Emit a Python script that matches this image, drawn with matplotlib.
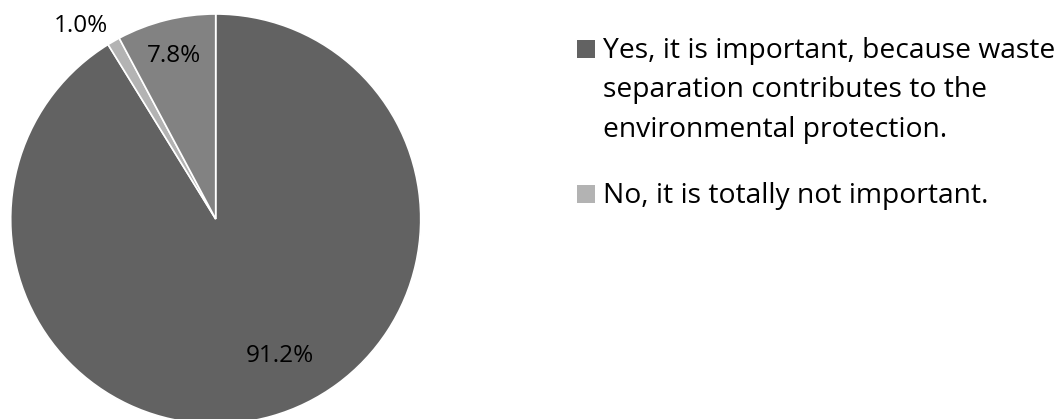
import matplotlib
matplotlib.use("Agg")
import matplotlib.pyplot as plt
from matplotlib.patches import Rectangle

labels = ["Yes, it is important, because waste\nseparation contributes to the\nenvironmental protection.",
          "No, it is totally not important.",
          "Other"]
values = [91.2, 1.0, 7.8]
colors = ["#626262", "#b3b3b3", "#828282"]
pct_labels = ["91.2%", "1.0%", "7.8%"]

FONT = ['Open Sans', 'DejaVu Sans']
plt.rcParams['font.family'] = FONT
FS_LEG = 20.3
FS_LBL = 17.5

W, H = 1062, 419
fig = plt.figure(figsize=(W/100, H/100), dpi=100)
cx, cy, r = 215.7, 219.0, 205.0
ax = fig.add_axes([(cx - r)/W, (H - cy - r)/H, 2*r/W, 2*r/H])
wedges, _ = ax.pie(values, colors=colors, startangle=90, counterclock=False, radius=1,
                   wedgeprops=dict(edgecolor="white", linewidth=1.2))
for w in wedges:
    w.set_clip_on(False)
ax.set_xlim(-1, 1)
ax.set_ylim(-1, 1)
ax.set_aspect('equal')
ax.axis('off')

# label anchor (center x, baseline y) in axes data units
label_pos = [(0.314, -0.698), (-0.657, 0.912), (-0.204, 0.766)]
for (x, y), t in zip(label_pos, pct_labels):
    ax.text(x, y, t, ha='center', va='baseline', fontsize=FS_LBL, color='#000000', clip_on=False)

# legend (first two entries visible)
first_baselines = [58, 203]
line_step = 39.5
sq = 17.5
for i, base in enumerate(first_baselines):
    fig.patches.append(Rectangle((577/W, (H - base)/H), sq/W, sq/H,
                                 transform=fig.transFigure, facecolor=colors[i], edgecolor='none'))
    for j, line in enumerate(labels[i].split("\n")):
        fig.text(603/W, (H - base - j*line_step)/H, line, ha='left', va='baseline',
                 fontsize=FS_LEG, color='#000000')

fig.savefig("out.png", dpi=100, facecolor='white')
